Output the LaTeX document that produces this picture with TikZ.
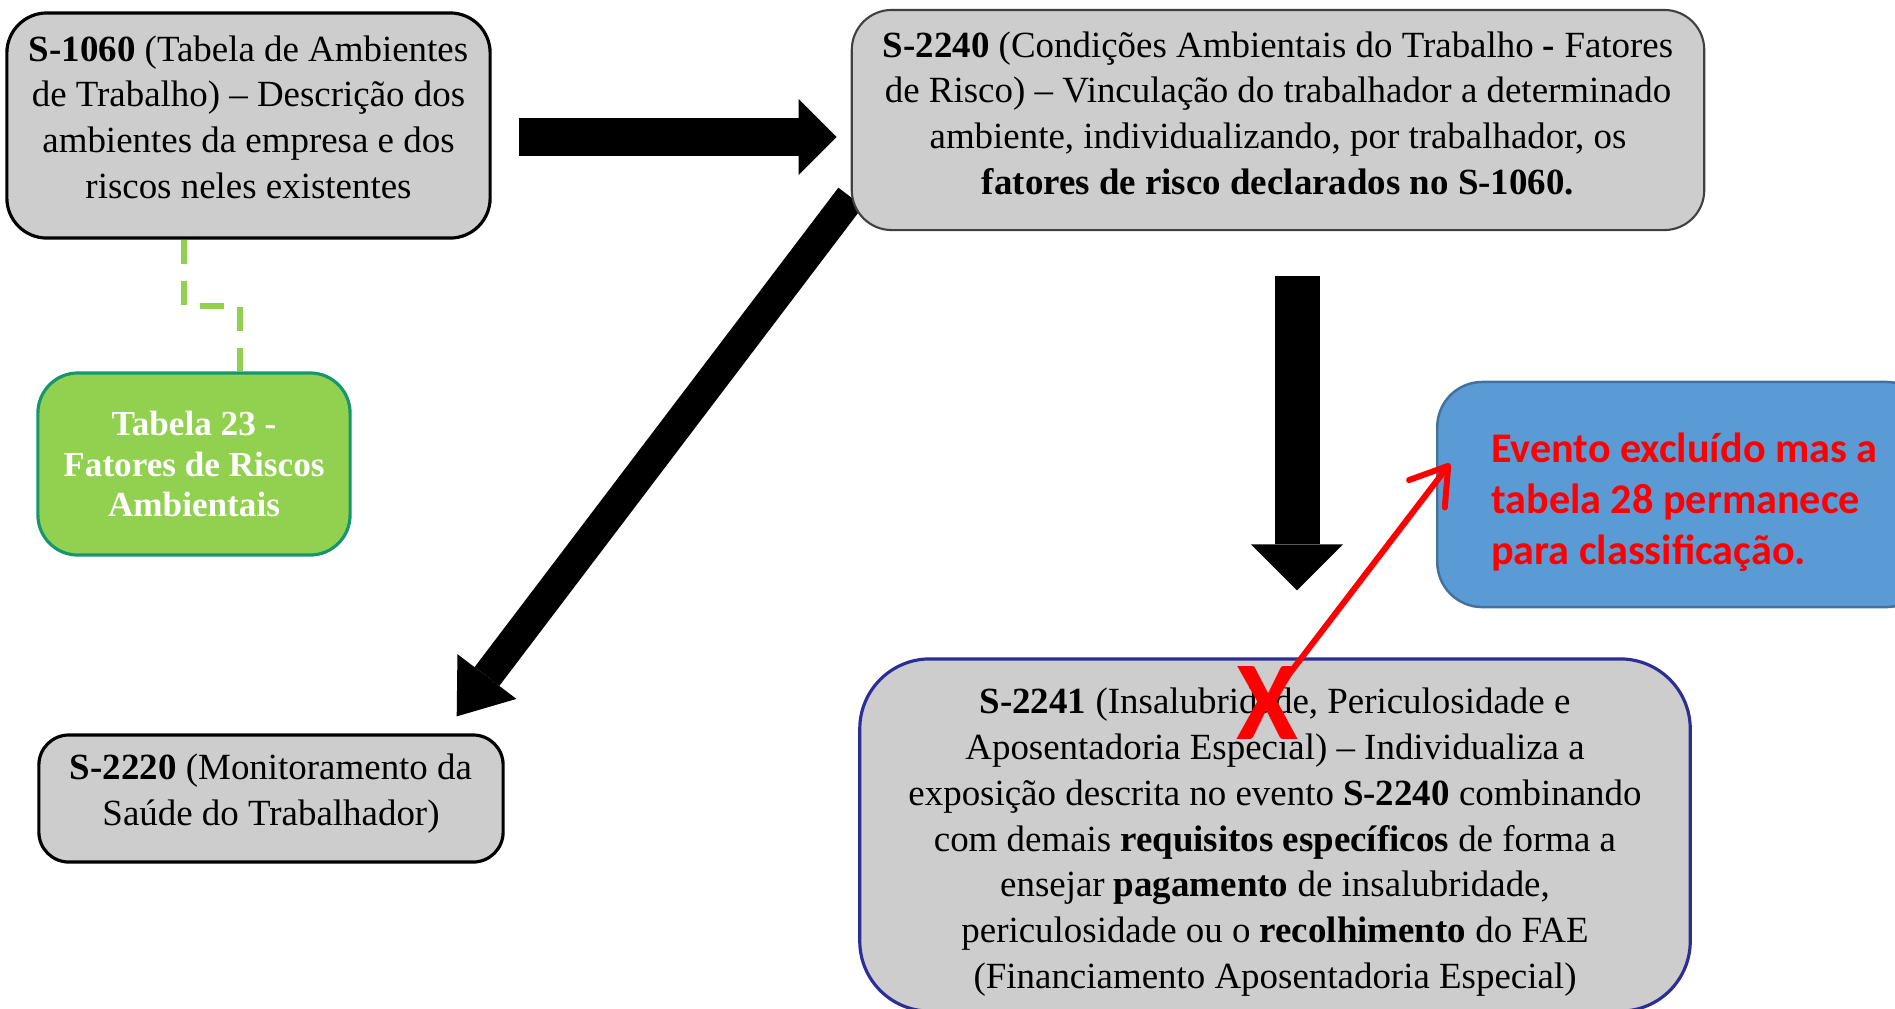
\documentclass[tikz,border=0pt]{standalone}
\usepackage{fontspec}
\setmainfont{Liberation Serif}
\newfontfamily\calibri{Carlito}
\usetikzlibrary{arrows.meta,backgrounds}
\definecolor{boxgray}{RGB}{205,205,205}
\definecolor{leafgreen}{RGB}{146,208,80}
\definecolor{tealedge}{RGB}{22,150,110}
\definecolor{skyblue}{RGB}{91,155,213}
\definecolor{blueedge}{RGB}{65,113,156}
\definecolor{navyedge}{RGB}{45,45,150}
\definecolor{darkedge}{RGB}{64,64,64}
\newcommand{\deep}[1]{\rule[-#1]{0pt}{#1}}
\newcommand{\tall}[1]{\rule{0pt}{#1}}
\begin{document}
\begin{tikzpicture}[x=0.01cm, y=-0.01cm,
		evento/.style={draw, fill=boxgray, line width=0.9pt, rounded corners=0.4cm, align=center, inner sep=0pt, font=\fontsize{10.5}{13}\selectfont},
		blockarrow/.style={line width=0.38cm, -{Triangle[length=0.38cm, width=0.76cm, line width=0pt]}},
		dashlink/.style={draw=leafgreen, line width=0.06cm, dash pattern=on 0.24cm off 0.17cm}]
	\useasboundingbox (0,0) rectangle (1895,1008);
	\node[evento] (s1060) at (248.5,125.5) [minimum width=4.83cm, minimum height=2.25cm] {\textbf{S-1060} (Tabela de Ambientes\\ de Trabalho) – Descrição dos\\ ambientes da empresa e dos\\ riscos neles existentes\deep{0.17cm}};
	\node[evento, draw=darkedge, line width=0.6pt] (s2240) at (1278,120) [minimum width=8.52cm, minimum height=2.2cm] {\textbf{S-2240} (Condições Ambientais do Trabalho \textbf{-} Fatores\\ de Risco) – Vinculação do trabalhador a determinado\\ ambiente, individualizando, por trabalhador, os\\ \textbf{fatores de risco declarados no S-1060.}\deep{0.14cm}};
	\node[evento, fill=leafgreen, draw=tealedge, text=white, font=\fontsize{10}{11.4}\selectfont\bfseries] (tab23) at (194,464) [minimum width=3.12cm, minimum height=1.82cm] {Tabela 23 -\\ Fatores de Riscos\\ Ambientais};
	\node[evento, rounded corners=0.3cm] (s2220) at (271,798.5) [minimum width=4.64cm, minimum height=1.27cm] {\textbf{S-2220} (Monitoramento da\\ Saúde do Trabalhador)\deep{0.17cm}};
	\node[evento, draw=navyedge, rounded corners=0.7cm] (s2241) at (1275,835) [minimum width=8.3cm, minimum height=3.52cm] {\tall{0.4cm}\textbf{S-2241} (Insalubridade, Periculosidade e\\ Aposentadoria Especial) – Individualiza a\\ exposição descrita no evento \textbf{S-2240} combinando\\ com demais \textbf{requisitos específicos} de forma a\\ ensejar \textbf{pagamento} de insalubridade,\\ periculosidade ou o \textbf{recolhimento} do FAE\\ (Financiamento Aposentadoria Especial)};
	\node[evento, anchor=west, fill=skyblue, draw=blueedge, line width=0.7pt, rounded corners=0.45cm, align=left, text=red, font=\calibri\bfseries\fontsize{12}{14.5}\selectfont] (nota) at (1436,494.5) [minimum width=4.94cm, minimum height=2.25cm] {\tall{0.46cm}Evento excluído mas a\\ tabela 28 permanece\\ para classificação.};
	\node[text=red, inner sep=0pt, font=\calibri\bfseries\fontsize{32}{32}\selectfont] (cross) at (1267,703) {X};
	\coordinate (hline) at (0,137);
	\coordinate (vline) at (1297,0);
	\coordinate (j1) at (184,306);
	\coordinate (j2) at (240,306);
	\draw[dashlink] (s1060.south -| j1) -- (j1) -- (j2) -- (tab23.north -| j2);
	\draw[blockarrow, shorten <=0.27cm, shorten >=0.14cm] (s1060.east |- hline) -- (s2240.west |- hline);
	\draw[blockarrow, line width=0.45cm, -{Triangle[length=0.46cm, width=0.92cm, line width=0pt]}, shorten <=0.45cm, shorten >=0.67cm] (s2240.south -| vline) -- (s2241.north -| vline);
	\begin{pgfonlayer}{background}
		\draw[blockarrow, line width=0.31cm, -{Triangle[length=0.5cm, width=0.74cm, line width=0pt]}] ([yshift=-0.77cm]s2240.west) -- ([xshift=-0.48cm, yshift=0.17cm]s2220.north east);
	\end{pgfonlayer}
	\draw[red, line width=0.06cm, line cap=round, -{Straight Barb[length=0.35cm, width=0.45cm, round]}, shorten <=0.3cm] (cross.center) -- ([xshift=0.14cm, yshift=0.31cm]nota.west);
\end{tikzpicture}
\end{document}
